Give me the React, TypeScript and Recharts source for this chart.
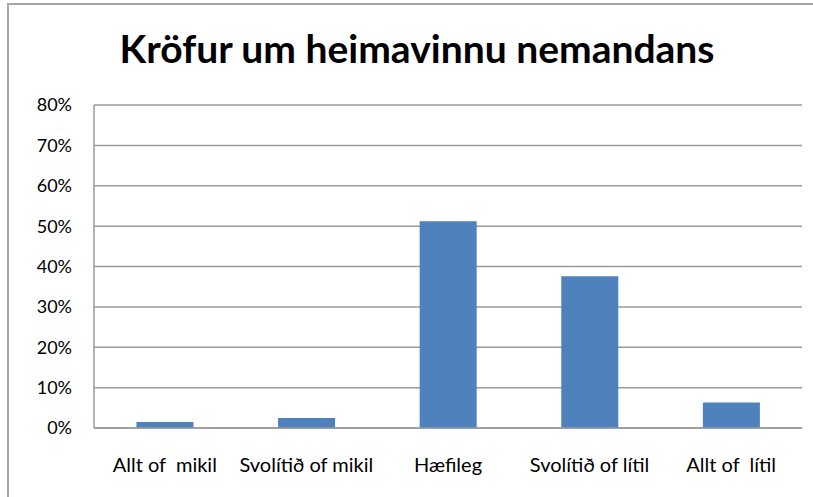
import React from "react";
import { BarChart, Bar, XAxis, YAxis, CartesianGrid } from "recharts";

const categories = ["Allt of\u00a0 mikil", "Svolítið of mikil", "Hæfileg", "Svolítið of lítil", "Allt of\u00a0 lítil"];
const shares = [0.015, 0.025, 0.512, 0.376, 0.063];
const yTicks = [0, 0.1, 0.2, 0.3, 0.4, 0.5, 0.6, 0.7, 0.8];

const data = categories.map((name, i) => ({ name, value: shares[i] }));

const font = "Lato, 'Open Sans', sans-serif";

const App: React.FC = () => {
  return (
    <div style={{ position: "absolute", left: 0, top: 0, width: 813, height: 497, background: "#fff", fontFamily: font, overflow: "hidden" }}>
      <div
        style={{
          position: "absolute",
          left: 7,
          top: 3,
          width: 820,
          height: 500,
          borderLeft: "2px solid #a6a6a6",
          borderTop: "2px solid #a6a6a6",
        }}
      />
      <div
        style={{
          position: "absolute",
          left: 0,
          top: 24,
          width: 834,
          textAlign: "center",
          fontSize: 39,
          fontWeight: 700,
          color: "#000",
          lineHeight: "48px",
        }}
      >
        Kröfur um heimavinnu nemandans
      </div>
      <BarChart
        width={813}
        height={497}
        data={data}
        margin={{ top: 105, right: 11, left: 0, bottom: 39 }}
        barCategoryGap="30%"
        style={{ position: "absolute", left: 0, top: 0 }}
      >
        <CartesianGrid vertical={false} stroke="#9a9a9a" strokeWidth={1.5} />
        <XAxis
          dataKey="name"
          stroke="#9a9a9a"
          strokeWidth={1.5}
          tickLine={false}
          tickMargin={24}
          height={30}
          tick={{ fill: "#000", fontSize: 20, fontFamily: font }}
          interval={0}
        />
        <YAxis
          width={94}
          domain={[0, 0.8]}
          ticks={yTicks}
          tickFormatter={(v: number) => `${Math.round(v * 100)}%`}
          stroke="#9a9a9a"
          strokeWidth={1.5}
          tickLine={false}
          tickSize={0}
          tickMargin={22}
          tick={{ fill: "#000", fontSize: 18, fontFamily: font }}
        />
        <Bar dataKey="value" fill="#4F81BD" isAnimationActive={false} />
      </BarChart>
    </div>
  );
};

export default App;
